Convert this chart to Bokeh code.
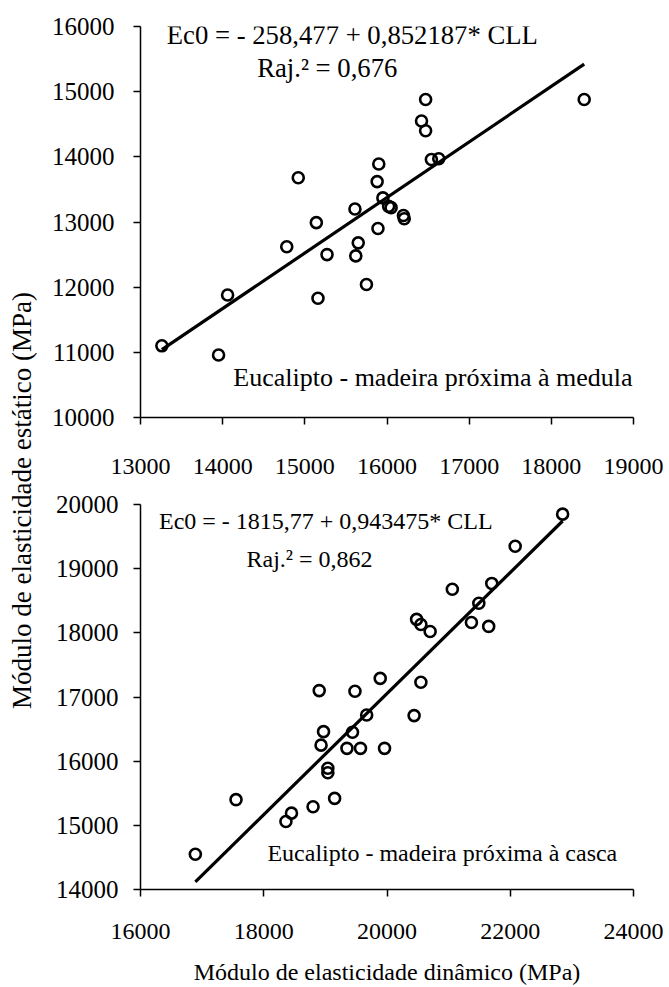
import math
from bokeh.plotting import figure
from bokeh.layouts import row, column
from bokeh.models import Range1d, Label, FixedTicker
from bokeh.embed import file_html
from bokeh.resources import INLINE

FONT = "Liberation Serif"

# ---------------- data: madeira próxima à medula (top) ----------------
top_x = [13260, 13950, 14060, 14780, 14920, 15140, 15160, 15270, 15610, 15620,
         15650, 15750, 15890, 15880, 15900, 15950, 16020, 16050, 16200, 16210,
         16420, 16470, 16470, 16540, 16630, 18400]
top_y = [11100, 10960, 11880, 12620, 13680, 12990, 11830, 12500, 13200, 12480,
         12680, 12040, 12900, 13620, 13890, 13370, 13240, 13220, 13100, 13050,
         14550, 14400, 14880, 13960, 13970, 14880]
top_intercept = -258.477
top_slope = 0.852187
top_eq = "Ec0 = - 258,477 + 0,852187* CLL"
top_r2 = "Raj.\u00b2 = 0,676"
top_name = "Eucalipto - madeira próxima à medula"
top_xticks = [13000, 14000, 15000, 16000, 17000, 18000, 19000]
top_yticks = [10000, 11000, 12000, 13000, 14000, 15000, 16000]

# ---------------- data: madeira próxima à casca (bottom) ----------------
bot_x = [16890, 17550, 18360, 18450, 18800, 18900, 18930, 18970, 19040, 19040,
         19150, 19350, 19440, 19480, 19570, 19670, 19890, 19960, 20440, 20480,
         20550, 20550, 20700, 21060, 21370, 21490, 21650, 21700, 22080, 22850]
bot_y = [14550, 15400, 15060, 15190, 15290, 17100, 16250, 16460, 15890, 15820,
         15420, 16200, 16450, 17090, 16200, 16720, 17290, 16200, 16710, 18210,
         17230, 18130, 18020, 18680, 18160, 18460, 18100, 18770, 19350, 19850]
bot_intercept = -1815.77
bot_slope = 0.943475
bot_eq = "Ec0 = - 1815,77 + 0,943475* CLL"
bot_r2 = "Raj.\u00b2 = 0,862"
bot_name = "Eucalipto - madeira próxima à casca"
bot_xticks = [16000, 18000, 20000, 22000, 24000]
bot_yticks = [14000, 15000, 16000, 17000, 18000, 19000, 20000]

y_title = "Módulo de elasticidade estático (MPa)"
x_title = "Módulo de elasticidade dinâmico (MPa)"


def style_axes(p, xticks, yticks, xsize, ysize, xstand, ystand):
    for ax in (p.xaxis[0], p.yaxis[0]):
        ax.axis_line_color = "black"
        ax.axis_line_width = 1.5
        ax.major_tick_line_color = "black"
        ax.major_tick_line_width = 1.5
        ax.major_tick_out = 7
        ax.major_tick_in = 0
        ax.minor_tick_line_color = None
        ax.major_label_text_font = FONT
        ax.major_label_text_color = "black"
    p.xaxis[0].ticker = FixedTicker(ticks=xticks)
    p.yaxis[0].ticker = FixedTicker(ticks=yticks)
    p.xaxis[0].major_label_text_font_size = xsize
    p.yaxis[0].major_label_text_font_size = ysize
    p.xaxis[0].major_label_standoff = xstand
    p.yaxis[0].major_label_standoff = ystand
    p.xgrid.grid_line_color = None
    p.ygrid.grid_line_color = None
    p.outline_line_color = None
    p.background_fill_color = "white"
    p.border_fill_color = "white"


def add_series(p, xs, ys, a, b):
    p.scatter(xs, ys, marker="circle", size=11, line_color="black",
              line_width=2.6, fill_alpha=0)
    x0, x1 = min(xs), max(xs)
    p.line([x0, x1], [a + b * x0, a + b * x1], line_color="black", line_width=3.2)


def add_text(p, x, y, text, size):
    p.add_layout(Label(x=x, y=y, text=text, text_font=FONT, text_font_size=size,
                       text_color="black", text_align="left", text_baseline="middle"))


# ---------------- y title strip ----------------
ytf = figure(width=48, height=987, x_range=Range1d(0, 48), y_range=Range1d(987, 0),
             output_backend="svg", toolbar_location=None,
             x_axis_location=None, y_axis_location=None, min_border=0)
ytf.outline_line_color = None
ytf.xgrid.grid_line_color = None
ytf.ygrid.grid_line_color = None
ytf.add_layout(Label(x=21, y=500, text=y_title, angle=math.pi / 2,
                     text_font=FONT, text_font_size="27px", text_color="black",
                     text_align="center", text_baseline="middle"))

# ---------------- top chart ----------------
p1 = figure(width=621, height=490, x_range=Range1d(13000, 19000),
            y_range=Range1d(10000, 16000), output_backend="svg",
            toolbar_location=None, min_border_left=91, min_border_right=31,
            min_border_top=26, min_border_bottom=73)
style_axes(p1, top_xticks, top_yticks, "24px", "25px", 34, 19)
add_series(p1, top_x, top_y, top_intercept, top_slope)
add_text(p1, 13320, 15874, top_eq, "26.7px")
add_text(p1, 14420, 15370, top_r2, "26.7px")
add_text(p1, 14130, 10621, top_name, "26px")

# ---------------- bottom chart ----------------
p2 = figure(width=621, height=497, x_range=Range1d(16000, 24000),
            y_range=Range1d(14000, 20000), output_backend="svg",
            toolbar_location=None, min_border_left=87, min_border_right=36,
            min_border_top=14, min_border_bottom=94)
style_axes(p2, bot_xticks, bot_yticks, "24px", "25px", 27, 15)
p2.xaxis[0].axis_label = x_title
p2.xaxis[0].axis_label_text_font = FONT
p2.xaxis[0].axis_label_text_font_size = "24px"
p2.xaxis[0].axis_label_text_font_style = "normal"
p2.xaxis[0].axis_label_text_color = "black"
p2.xaxis[0].axis_label_standoff = 17
add_series(p2, bot_x, bot_y, bot_intercept, bot_slope)
add_text(p2, 16300, 19750, bot_eq, "24px")
add_text(p2, 17720, 19149, bot_r2, "24px")
add_text(p2, 18060, 14570, bot_name, "24px")

layout = row(ytf, column(p1, p2))

with open("out.html", "w") as f:
    f.write(file_html(layout, INLINE))
